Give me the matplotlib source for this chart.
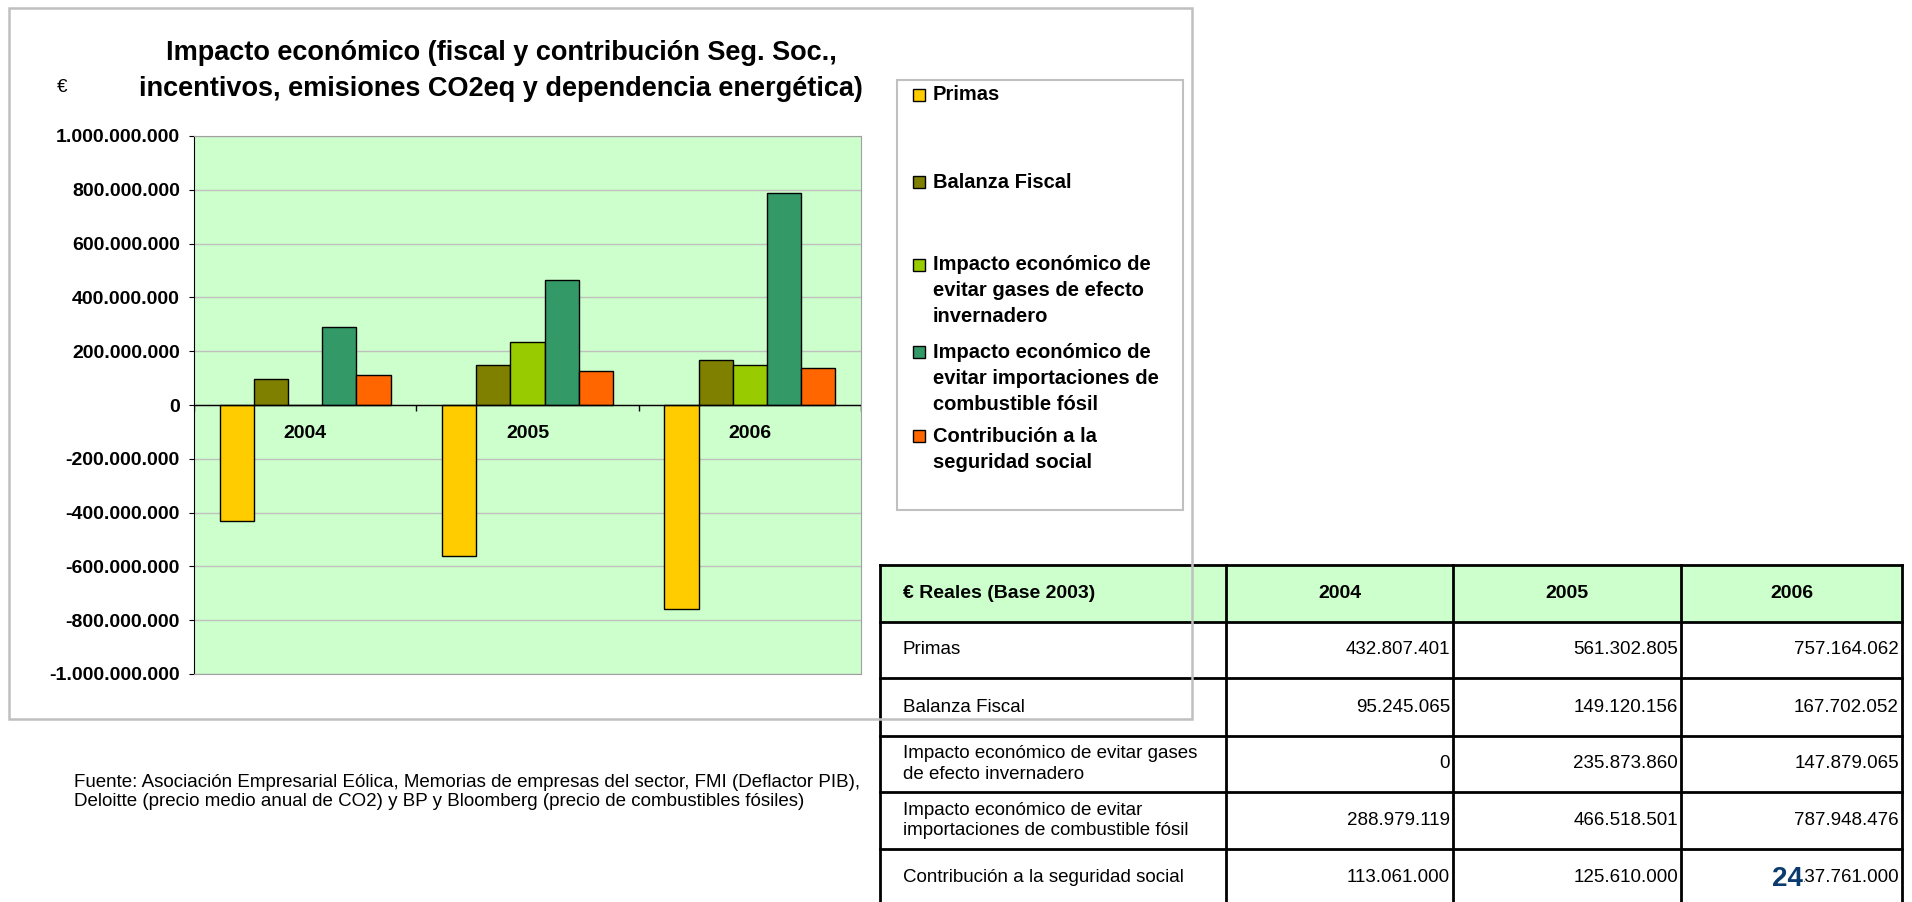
import textwrap
import matplotlib.pyplot as plt
from matplotlib.patches import Rectangle
import numpy as np

plt.rcParams['font.family'] = ['Liberation Sans', 'DejaVu Sans']

years = ['2004', '2005', '2006']
series = ['Primas', 'Balanza Fiscal',
          'Impacto económico de evitar gases de efecto invernadero',
          'Impacto económico de evitar importaciones de combustible fósil',
          'Contribución a la seguridad social']
table_labels = ['Primas', 'Balanza Fiscal',
                'Impacto económico de evitar gases\nde efecto invernadero',
                'Impacto económico de evitar\nimportaciones de combustible fósil',
                'Contribución a la seguridad social']
primas = [432807401, 561302805, 757164062]
balanza = [95245065, 149120156, 167702052]
gases = [0, 235873860, 147879065]
importaciones = [288979119, 466518501, 787948476]
contribucion = [113061000, 125610000, 137761000]
colors = ['#FFCC00', '#808000', '#99CC00', '#339966', '#FF6600']
title = 'Impacto económico (fiscal y contribución Seg. Soc.,\nincentivos, emisiones CO2eq y dependencia energética)'
fuente = ('Fuente: Asociación Empresarial Eólica, Memorias de empresas del sector, FMI (Deflactor PIB),\n'
          'Deloitte (precio medio anual de CO2) y BP y Bloomberg (precio de combustibles fósiles)')

W, H = 1912, 902


def es(v):
    return f'{int(v):,}'.replace(',', '.')


fig = plt.figure(figsize=(W / 100, H / 100), dpi=100)

# chart (primas are a cost -> negative)
chart_vals = [[-v for v in primas], balanza, gases, importaciones, contribucion]
ax = fig.add_axes([194 / W, 1 - 674 / H, (861 - 194) / W, (674 - 136) / H])
ax.set_facecolor('#CCFFCC')
x = np.arange(len(years))
w = 1 / (len(series) + 1.5)
for k, vals in enumerate(chart_vals):
    ax.bar(x + (k - 2) * w, vals, w, color=colors[k], edgecolor='black', linewidth=1, zorder=3)
ax.set_xlim(-0.5, len(years) - 0.5)
ax.set_ylim(-1e9, 1e9)
yt = np.arange(-1e9, 1e9 + 1, 2e8)
ax.set_yticks(yt)
ax.set_yticklabels([es(v) for v in yt], fontsize=14, fontweight='bold')
ax.tick_params(axis='y', length=3.6, pad=6.5, color='black')
ax.yaxis.grid(True, color='#c0c0c0', linewidth=1, zorder=0)
ax.set_xticks([])
ax.axhline(0, color='black', linewidth=1, zorder=4)
ax.vlines(np.arange(len(years) + 1) - 0.5, 0, -2.2e7, color='black', linewidth=1, zorder=4)
for i, yr in enumerate(years):
    ax.annotate(yr, (i, 0), xytext=(0, -29), textcoords='offset pixels',
                ha='center', va='center', fontsize=14, fontweight='bold', zorder=5)
for s in ['top', 'right', 'bottom']:
    ax.spines[s].set_color('#a0a0a0')
ax.spines['left'].set_color('black')

# overlay in pixel coordinates
ov = fig.add_axes([0, 0, 1, 1], zorder=5)
ov.set_xlim(0, W)
ov.set_ylim(H, 0)
ov.axis('off')

ov.text(501, 71, title, ha='center', va='center', fontsize=19.5, fontweight='bold', linespacing=1.45)
ov.text(62, 88, '€', ha='center', va='center', fontsize=13.5)

# legend
ov.add_patch(Rectangle((897, 80), 1183 - 897, 510 - 80, fill=False, edgecolor='#c0c0c0', linewidth=1.5))
leg_y = [95, 182, 265, 352, 436]
for k, name in enumerate(series):
    ov.add_patch(Rectangle((913, leg_y[k] - 6), 12, 12, facecolor=colors[k], edgecolor='black', linewidth=1))
    for j, line in enumerate(textwrap.wrap(name, 24)):
        ov.text(933, leg_y[k] + j * 26, line, ha='left', va='center', fontsize=14.5, fontweight='bold')

# table
cols = [880, 1226, 1453, 1681, 1902]
rows = [565, 622, 678, 736, 792, 849, 906]
ov.add_patch(Rectangle((cols[0], rows[0]), cols[-1] - cols[0], rows[1] - rows[0], facecolor='#CCFFCC', edgecolor='none', zorder=1))
ov.text(903, (rows[0] + rows[1]) / 2, '€ Reales (Base 2003)', ha='left', va='center', fontsize=14, fontweight='bold', zorder=3)
for c, yr in enumerate(years):
    ov.text((cols[c + 1] + cols[c + 2]) / 2, (rows[0] + rows[1]) / 2, yr, ha='center', va='center', fontsize=14, fontweight='bold', zorder=3)
table_vals = [primas, balanza, gases, importaciones, contribucion]
for r, lab in enumerate(table_labels):
    yc = (rows[r + 1] + rows[r + 2]) / 2
    ov.text(903, yc, lab, ha='left', va='center', fontsize=13.5, linespacing=1.3, zorder=3)
    for c, v in enumerate(table_vals[r]):
        ov.text(cols[c + 2] - 3, yc, es(v), ha='right', va='center', fontsize=13.5, zorder=3)
for yy in rows:
    ov.plot([cols[0], cols[-1]], [yy, yy], color='black', linewidth=2, zorder=2)
for xx in cols:
    ov.plot([xx, xx], [rows[0], rows[-1]], color='black', linewidth=2, zorder=2)

# chart frame on top of table
ov.add_patch(Rectangle((9, 8), 1192 - 9, 719 - 8, fill=False, edgecolor='#c0c0c0', linewidth=1.8, zorder=6))

ov.text(74, 792, fuente, ha='left', va='center', fontsize=13.5, linespacing=1.2)

# slide number sits over the first digit of the last cell
ov.text(1787, 879, '24', ha='center', va='center', fontsize=20, fontweight='bold', color='#0B3A6E',
        zorder=7, bbox=dict(facecolor='white', edgecolor='none', pad=1.5))

fig.savefig('out.png', dpi=100)
